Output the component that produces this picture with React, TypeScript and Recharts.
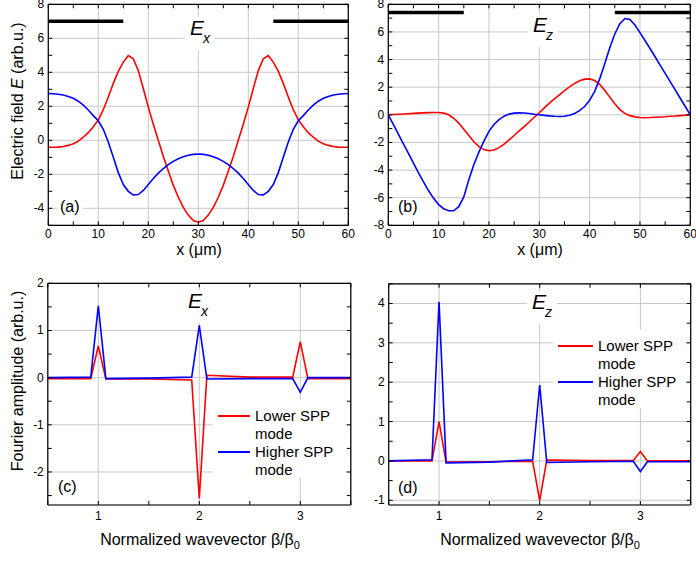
import React from 'react';
import { LineChart, Line, XAxis, YAxis, CartesianGrid, ReferenceLine } from 'recharts';

const FONT = '"Liberation Sans", Arial, Helvetica, sans-serif';
const RED = '#ff0000';
const BLUE = '#0000ff';

// ---------- Panel (a): Ex field profile ----------
const xMicrons = [0,1,2,3,4,5,6,7,8,9,10,11,12,13,14,15,16,17,18,19,20,21,22,23,24,25,26,27,28,29,30,31,32,33,34,35,36,37,38,39,40,41,42,43,44,45,46,47,48,49,50,51,52,53,54,55,56,57,58,59,60];
const exLower = [-0.41,-0.41,-0.4,-0.36,-0.3,-0.2,-0.05,0.18,0.45,0.8,1.2,1.8,2.55,3.35,4.05,4.6,4.98,4.8,4.1,3.05,1.95,0.95,0.0,-0.95,-1.8,-2.65,-3.35,-3.95,-4.4,-4.72,-4.82,-4.72,-4.4,-3.95,-3.35,-2.65,-1.8,-0.95,0.0,0.95,1.95,3.05,4.1,4.8,4.98,4.6,4.05,3.35,2.55,1.8,1.2,0.8,0.45,0.18,-0.05,-0.2,-0.3,-0.36,-0.4,-0.41,-0.41];
const exHigher = [2.75,2.74,2.71,2.66,2.58,2.47,2.3,2.07,1.78,1.45,1.15,0.65,-0.1,-1.0,-1.9,-2.6,-3.0,-3.21,-3.19,-2.95,-2.6,-2.25,-1.93,-1.66,-1.43,-1.24,-1.09,-0.97,-0.88,-0.83,-0.81,-0.83,-0.88,-0.97,-1.09,-1.24,-1.43,-1.66,-1.93,-2.25,-2.6,-2.95,-3.19,-3.21,-3.0,-2.6,-1.9,-1.0,-0.1,0.65,1.15,1.45,1.78,2.07,2.3,2.47,2.58,2.66,2.71,2.74,2.75];

// ---------- Panel (b): Ez field profile ----------
const ezLower = [0,0.02,0.04,0.06,0.08,0.1,0.12,0.14,0.16,0.17,0.17,0.12,0.0,-0.25,-0.6,-1.05,-1.5,-1.95,-2.3,-2.52,-2.6,-2.55,-2.38,-2.12,-1.82,-1.5,-1.17,-0.85,-0.52,-0.18,0.15,0.5,0.85,1.15,1.45,1.75,2.02,2.27,2.47,2.58,2.6,2.48,2.2,1.78,1.28,0.8,0.38,0.1,-0.06,-0.15,-0.2,-0.21,-0.2,-0.18,-0.16,-0.14,-0.11,-0.09,-0.06,-0.03,0.0];
const ezHigher = [0,-0.7,-1.4,-2.1,-2.8,-3.5,-4.2,-4.85,-5.5,-6.05,-6.5,-6.8,-6.95,-6.95,-6.65,-5.95,-4.7,-3.6,-2.7,-1.9,-1.2,-0.7,-0.35,-0.1,0.05,0.12,0.14,0.13,0.09,0.04,0.0,-0.04,-0.08,-0.11,-0.12,-0.1,-0.03,0.1,0.3,0.6,1.05,1.7,2.6,3.7,4.85,5.85,6.6,6.97,6.9,6.5,5.95,5.38,4.8,4.2,3.6,3.0,2.4,1.8,1.2,0.6,0.0];

// metal strips (x ranges) and their drawing level
const stripsA = [[0, 15], [45, 60]];
const stripLevelA = 7;
const stripsB = [[0, 15], [45, 60]];
const stripLevelB = 7.4;

// ---------- Panel (c): Fourier amplitudes of Ex ----------
const betaC = [0.5, 0.925, 1, 1.075, 1.5, 1.925, 2, 2.075, 2.5, 2.925, 3, 3.075, 3.5];
const fxLower = [-0.02, -0.02, 0.67, -0.03, -0.03, -0.05, -2.56, 0.05, 0.01, 0.01, 0.76, -0.02, -0.02];
const fxHigher = [0.0, 0.01, 1.52, -0.02, -0.01, 0.01, 1.11, -0.03, -0.02, -0.02, -0.31, 0.0, 0.0];

// ---------- Panel (d): Fourier amplitudes of Ez ----------
const betaD = [0.5, 0.93, 1, 1.07, 1.5, 1.93, 2, 2.07, 2.5, 2.93, 3, 3.07, 3.5];
const fzLower = [0.0, 0.0, 1.0, -0.03, -0.02, -0.01, -1.01, 0.02, 0.01, 0.01, 0.24, 0.0, 0.0];
const fzHigher = [0.0, 0.03, 4.04, -0.05, -0.03, 0.03, 1.93, -0.04, -0.02, -0.01, -0.27, -0.02, -0.02];

// ticks
const xTicksAB = [0, 10, 20, 30, 40, 50, 60];
const xMinorAB = [5, 15, 25, 35, 45, 55];
const yTicksA = [-4, -2, 0, 2, 4, 6, 8];
const yMinorA = [-5, -3, -1, 1, 3, 5, 7];
const yTicksB = [-8, -6, -4, -2, 0, 2, 4, 6, 8];
const yMinorB = [-7, -5, -3, -1, 1, 3, 5, 7];
const xTicksCD = [1, 2, 3];
const xMinorCD = [0.5, 1.5, 2.5, 3.5];
const yTicksC = [-2, -1, 0, 1, 2];
const yMinorC = [-2.5, -1.5, -0.5, 0.5, 1.5];
const yTicksD = [-1, 0, 1, 2, 3, 4];
const yMinorD = [-0.5, 0.5, 1.5, 2.5, 3.5, 4.5];

const zip = (xs: number[], a: number[], b: number[]) => xs.map((x, i) => ({ x, lower: a[i], higher: b[i] }));

const TL = 4;

const XLabel = (p: any) => {
  const { x, y, payload, dy } = p;
  return (
    <text x={x} y={y + dy} textAnchor="middle" fontSize={12} fontFamily={FONT} fill="#000">{String(payload.value)}</text>
  );
};
const YLabel = (p: any) => {
  const { x, y, payload } = p;
  return (
    <text x={x - 4} y={y + 4} textAnchor="end" fontSize={12} fontFamily={FONT} fill="#000">{String(payload.value)}</text>
  );
};
// drawn from the top axis: inward tick marks on top and bottom edges
const XMarks = (p: any) => {
  const { x, y, plotH } = p;
  return (
    <g>
      <line x1={x} y1={y} x2={x} y2={y + TL} stroke="#000" strokeWidth={1} />
      <line x1={x} y1={y + plotH} x2={x} y2={y + plotH - TL} stroke="#000" strokeWidth={1} />
    </g>
  );
};
// drawn from the right axis: inward tick marks on right and left edges
const YMarks = (p: any) => {
  const { x, y, plotW } = p;
  return (
    <g>
      <line x1={x} y1={y} x2={x - TL} y2={y} stroke="#000" strokeWidth={1} />
      <line x1={x - plotW} y1={y} x2={x - plotW + TL} y2={y} stroke="#000" strokeWidth={1} />
    </g>
  );
};

type Cfg = {
  left: number; top: number; width: number; height: number;
  plotX: number; plotY: number; plotW: number; plotH: number;
  data: any[];
  xDomain: [number, number]; yDomain: [number, number];
  xMajor: number[]; xMinor: number[]; yMajor: number[]; yMinor: number[];
  dy: number;
  strips?: number[][]; stripLevel?: number;
};

const axisLineStyle = { stroke: '#000', strokeWidth: 1.2 };

function Panel({ c }: { c: Cfg }) {
  const margin = {
    left: c.plotX - 1,
    top: c.plotY - 1,
    right: c.width - c.plotX - c.plotW - 1,
    bottom: c.height - c.plotY - c.plotH - 1,
  };
  return (
    <div style={{ position: 'absolute', left: c.left, top: c.top }}>
      <LineChart width={c.width} height={c.height} data={c.data} margin={margin}>
        <CartesianGrid xAxisId="xb" yAxisId="yl" stroke="#c8c8c8" strokeWidth={1} />
        <XAxis xAxisId="xb" type="number" dataKey="x" domain={c.xDomain} allowDataOverflow ticks={c.xMajor} interval={0}
          height={1} tickSize={0} tickMargin={0} tickLine={false} axisLine={axisLineStyle}
          tick={(p: any) => <XLabel {...p} dy={c.dy} />} />
        <XAxis xAxisId="xt" orientation="top" type="number" dataKey="x" domain={c.xDomain} allowDataOverflow ticks={[...c.xMajor, ...c.xMinor]} interval={0}
          height={1} tickSize={0} tickMargin={0} tickLine={false} axisLine={axisLineStyle}
          tick={(p: any) => <XMarks {...p} plotH={c.plotH} />} />
        <YAxis yAxisId="yl" type="number" domain={c.yDomain} allowDataOverflow ticks={c.yMajor} interval={0}
          width={1} tickSize={0} tickMargin={0} tickLine={false} axisLine={axisLineStyle}
          tick={(p: any) => <YLabel {...p} />} />
        <YAxis yAxisId="yr" orientation="right" type="number" domain={c.yDomain} allowDataOverflow ticks={[...c.yMajor, ...c.yMinor]} interval={0}
          width={1} tickSize={0} tickMargin={0} tickLine={false} axisLine={axisLineStyle}
          tick={(p: any) => <YMarks {...p} plotW={c.plotW} />} />
        {(c.strips || []).map((s, i) => (
          <ReferenceLine key={i} xAxisId="xb" yAxisId="yl" segment={[{ x: s[0], y: c.stripLevel }, { x: s[1], y: c.stripLevel }]}
            stroke="#000" strokeWidth={3.5} ifOverflow="visible" />
        ))}
        <Line xAxisId="xb" yAxisId="yl" type="linear" dataKey="lower" stroke={RED} strokeWidth={1.6} dot={false} isAnimationActive={false} />
        <Line xAxisId="xb" yAxisId="yl" type="linear" dataKey="higher" stroke={BLUE} strokeWidth={1.6} dot={false} isAnimationActive={false} />
      </LineChart>
    </div>
  );
}

const cfgA: Cfg = {
  left: 0, top: 0, width: 365, height: 262,
  plotX: 48.3, plotY: 4.3, plotW: 300, plotH: 221,
  data: zip(xMicrons, exLower, exHigher), xDomain: [0, 60], yDomain: [-5, 8],
  xMajor: xTicksAB, xMinor: xMinorAB, yMajor: yTicksA, yMinor: yMinorA, dy: 12.5,
  strips: stripsA, stripLevel: stripLevelA,
};
const cfgB: Cfg = {
  left: 350, top: 0, width: 346, height: 262,
  plotX: 38.3, plotY: 4.3, plotW: 302, plotH: 221,
  data: zip(xMicrons, ezLower, ezHigher), xDomain: [0, 60], yDomain: [-8, 8],
  xMajor: xTicksAB, xMinor: xMinorAB, yMajor: yTicksB, yMinor: yMinorB, dy: 12.5,
  strips: stripsB, stripLevel: stripLevelB,
};
const cfgC: Cfg = {
  left: 0, top: 262, width: 365, height: 299,
  plotX: 47.8, plotY: 21.3, plotW: 303, plotH: 221.7,
  data: zip(betaC, fxLower, fxHigher), xDomain: [0.5, 3.5], yDomain: [-2.7, 2],
  xMajor: xTicksCD, xMinor: xMinorCD, yMajor: yTicksC, yMinor: yMinorC, dy: 14.5,
};
const cfgD: Cfg = {
  left: 350, top: 262, width: 346, height: 299,
  plotX: 38.7, plotY: 21.8, plotW: 302, plotH: 221.2,
  data: zip(betaD, fzLower, fzHigher), xDomain: [0.5, 3.5], yDomain: [-1.12, 4.5],
  xMajor: xTicksCD, xMinor: xMinorCD, yMajor: yTicksD, yMinor: yMinorD, dy: 14.5,
};

const txt: React.CSSProperties = { position: 'absolute', fontFamily: FONT, color: '#000', whiteSpace: 'nowrap' };

// E with italic subscript; (left, base) = left edge and baseline of the "E"
function FieldTitle({ left, base, sub }: { left: number; base: number; sub: string }) {
  const boxTop = base - 18;
  return (
    <div style={{ ...txt, left: left - 5, top: boxTop, width: 30, height: 33, background: '#fff' }}>
      <span style={{ position: 'absolute', left: 5, top: base - 18.3 - boxTop, fontSize: 21, fontStyle: 'italic', lineHeight: '22px' }}>E</span>
      <span style={{ position: 'absolute', left: 18, top: base + 7.5 - 11.9 - boxTop, fontSize: 14, fontStyle: 'italic', lineHeight: '14px' }}>{sub}</span>
    </div>
  );
}

function PanelTag({ left, cy, label }: { left: number; cy: number; label: string }) {
  return (
    <div style={{ ...txt, left, top: cy - 9, fontSize: 16, lineHeight: '18px', padding: '0 3px', background: '#fff' }}>{label}</div>
  );
}

function Legend({ left, top, lineX1, lineX2 }: { left: number; top: number; lineX1: number; lineX2: number }) {
  const items = [
    { color: RED, name: 'Lower SPP' },
    { color: BLUE, name: 'Higher SPP' },
  ];
  return (
    <div style={{ ...txt, left, top, width: 132, height: 78, background: '#fff' }}>
      {items.map((it, i) => (
        <React.Fragment key={i}>
          <div style={{ position: 'absolute', left: lineX1, width: lineX2 - lineX1, top: 15 + i * 36, height: 0, borderTop: `2px solid ${it.color}` }} />
          <div style={{ position: 'absolute', left: lineX2 + 5, top: 7 + i * 36, fontSize: 15, lineHeight: '18px' }}>{it.name}<br />mode</div>
        </React.Fragment>
      ))}
    </div>
  );
}

function CenterText({ cx, cy, children, rotate }: { cx: number; cy: number; children: React.ReactNode; rotate?: boolean }) {
  return (
    <div style={{ ...txt, left: cx, top: cy, fontSize: 16, lineHeight: '18px', transform: `translate(-50%,-50%)${rotate ? ' rotate(-90deg)' : ''}` }}>
      {children}
    </div>
  );
}

export default function App() {
  return (
    <div style={{ position: 'absolute', left: 0, top: 0, width: 696, height: 561, background: '#fff', overflow: 'hidden' }}>
      <Panel c={cfgA} />
      <Panel c={cfgB} />
      <Panel c={cfgC} />
      <Panel c={cfgD} />

      <FieldTitle left={190} base={35} sub="x" />
      <FieldTitle left={533} base={32} sub="z" />
      <FieldTitle left={188} base={308} sub="x" />
      <FieldTitle left={532} base={309} sub="z" />

      <PanelTag left={57} cy={207} label="(a)" />
      <PanelTag left={395} cy={207} label="(b)" />
      <PanelTag left={55} cy={487} label="(c)" />
      <PanelTag left={395} cy={488} label="(d)" />

      <Legend left={213} top={400} lineX1={5} lineX2={37} />
      <Legend left={553} top={330} lineX1={5} lineX2={40} />

      <CenterText cx={199} cy={250}>x (μm)</CenterText>
      <CenterText cx={540} cy={250}>x (μm)</CenterText>
      <CenterText cx={200} cy={540}>Normalized wavevector β/β<sub style={{ fontSize: 11, verticalAlign: '-4px', lineHeight: 0 }}>0</sub></CenterText>
      <CenterText cx={540} cy={540}>Normalized wavevector β/β<sub style={{ fontSize: 11, verticalAlign: '-4px', lineHeight: 0 }}>0</sub></CenterText>
      <CenterText cx={18} cy={101} rotate>Electric field <i>E</i> (arb.u.)</CenterText>
      <CenterText cx={18} cy={381} rotate>Fourier amplitude (arb.u.)</CenterText>
    </div>
  );
}
